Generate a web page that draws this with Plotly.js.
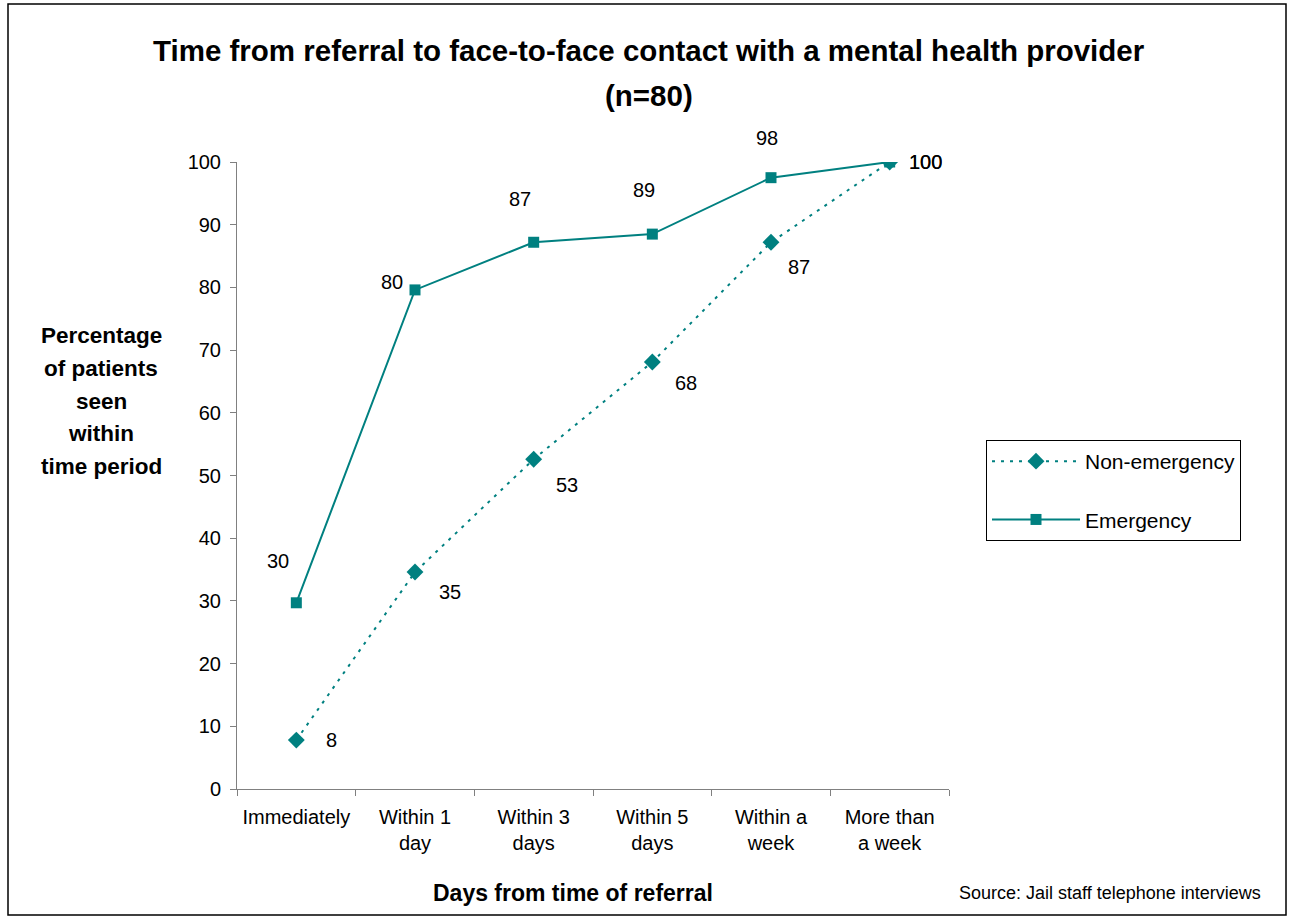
<!DOCTYPE html>
<html>
<head>
<meta charset="utf-8">
<script src="https://cdn.plot.ly/plotly-3.0.1.min.js"></script>
<style>html,body{margin:0;padding:0;background:#fff;}#chart{width:1290px;height:919px;}</style>
</head>
<body>
<div id="chart"></div>
<script>
// ---- data ----
const categories = ["Immediately", "Within 1 day", "Within 3 days", "Within 5 days", "Within a week", "More than a week"];
const tickLabels = ["Immediately", "Within 1<br>day", "Within 3<br>days", "Within 5<br>days", "Within a<br>week", "More than<br>a week"];
const emergencyValues = [29.7, 79.6, 87.2, 88.5, 97.5, 100];
const emergencyLabels = ["30", "80", "87", "89", "98", "100"];
const nonEmergencyValues = [7.8, 34.6, 52.6, 68.1, 87.2, 100];
const nonEmergencyLabels = ["8", "35", "53", "68", "87", "100"];
const yTickValues = [0, 10, 20, 30, 40, 50, 60, 70, 80, 90, 100];

// ---- styling (label offsets in px) ----
const teal = "#008080";
const emergencyShiftX = [-18, -23, -14, -8, -4, 36];
const emergencyShiftY = [42, 8, 43, 44, 40, 0];
const nonEmergencyShiftX = [35, 35, 33, 34, 28, 36];
const nonEmergencyShiftY = [0, -20, -26, -21, -25, 0];
const FONT = "Arial, 'Liberation Sans', sans-serif";

const traces = [
  {
    type: "scatter", mode: "lines+markers", name: "Non-emergency", legendgroup: "a",
    x: categories, y: nonEmergencyValues,
    line: {color: teal, width: 2, dash: "3px,6px"},
    marker: {symbol: "diamond", size: 13, color: teal}
  },
  {
    type: "scatter", mode: "lines+markers", name: "Emergency", legendgroup: "b",
    x: categories, y: emergencyValues,
    line: {color: teal, width: 2},
    marker: {symbol: "square", size: 11, color: teal}
  }
];

const annotations = [];
categories.forEach((c, i) => {
  annotations.push({x: c, y: emergencyValues[i], xref: "x", yref: "y", text: emergencyLabels[i],
    showarrow: false, xshift: emergencyShiftX[i], yshift: emergencyShiftY[i],
    font: {family: FONT, size: 20, color: "#000"}});
  annotations.push({x: c, y: nonEmergencyValues[i], xref: "x", yref: "y", text: nonEmergencyLabels[i],
    showarrow: false, xshift: nonEmergencyShiftX[i], yshift: nonEmergencyShiftY[i],
    font: {family: FONT, size: 20, color: "#000"}});
});

// Title lines
const titleLines = ["Time from referral to face-to-face contact with a mental health provider", "(n=80)"];
const titleY = [50, 95];
titleLines.forEach((t, i) => {
  annotations.push({xref: "paper", yref: "paper", x: (649 - 237) / 712, y: (789 - titleY[i]) / 627,
    text: "<b>" + t + "</b>", showarrow: false, xanchor: "center", yanchor: "middle",
    font: {family: FONT, size: 29.5, color: "#000"}});
});

// Y axis title lines
const yTitleLines = ["Percentage", "of patients", "seen", "within", "time period"];
const yTitleY = [335, 368, 401, 433, 466];
yTitleLines.forEach((t, i) => {
  annotations.push({xref: "paper", yref: "paper", x: (101 - 237) / 712, y: (789 - yTitleY[i]) / 627,
    text: "<b>" + t + "</b>", showarrow: false, xanchor: "center", yanchor: "middle",
    font: {family: FONT, size: 22.5, color: "#000"}});
});

// X axis title
annotations.push({xref: "paper", yref: "paper", x: (573 - 237) / 712, y: (789 - 893) / 627,
  text: "<b>Days from time of referral</b>", showarrow: false, xanchor: "center", yanchor: "middle",
  font: {family: FONT, size: 23, color: "#000"}});

// Source
annotations.push({xref: "paper", yref: "paper", x: (1263 - 237) / 712, y: (789 - 893) / 627,
  text: "Source: Jail staff telephone interviews", showarrow: false, xanchor: "right", yanchor: "middle",
  font: {family: FONT, size: 18, color: "#000"}});

const layout = {
  width: 1290, height: 919,
  margin: {l: 237, r: 341, t: 162, b: 130},
  paper_bgcolor: "#fff", plot_bgcolor: "#fff",
  font: {family: FONT, size: 20, color: "#000"},
  showlegend: true,
  legend: {
    x: (986 - 237) / 712, y: (789 - 440) / 627, xanchor: "left", yanchor: "top",
    bordercolor: "#000", borderwidth: 1, bgcolor: "#fff",
    font: {family: FONT, size: 21, color: "#000"},
    itemwidth: 88, traceorder: "grouped", tracegroupgap: 28
  },
  xaxis: {
    type: "category", range: [-0.5, 5.5], tickmode: "array", tickvals: categories, ticktext: tickLabels,
    tickson: "boundaries", ticks: "outside", ticklen: 6, tickcolor: "#808080",
    showline: true, linecolor: "#808080", linewidth: 1, showgrid: false, zeroline: false,
    tickangle: 0, automargin: false,
    ticklabelstandoff: 10,
    tickfont: {family: FONT, size: 20, color: "#000"}
  },
  yaxis: {
    range: [0, 100], tickmode: "array", tickvals: yTickValues, ticks: "outside", ticklen: 6, tickcolor: "#808080",
    showline: true, linecolor: "#808080", linewidth: 1, showgrid: false, zeroline: false,
    ticklabelstandoff: 5, automargin: false,
    tickfont: {family: FONT, size: 20, color: "#000"}
  },
  annotations: annotations,
  shapes: [{
    type: "rect", xref: "paper", yref: "paper",
    x0: (8 - 237) / 712, x1: (1286 - 237) / 712, y0: (789 - 915) / 627, y1: (789 - 4) / 627,
    line: {color: "#000", width: 1.5}, fillcolor: "rgba(0,0,0,0)", layer: "below"
  }]
};

Plotly.newPlot("chart", traces, layout, {displayModeBar: false});
</script>
</body>
</html>
